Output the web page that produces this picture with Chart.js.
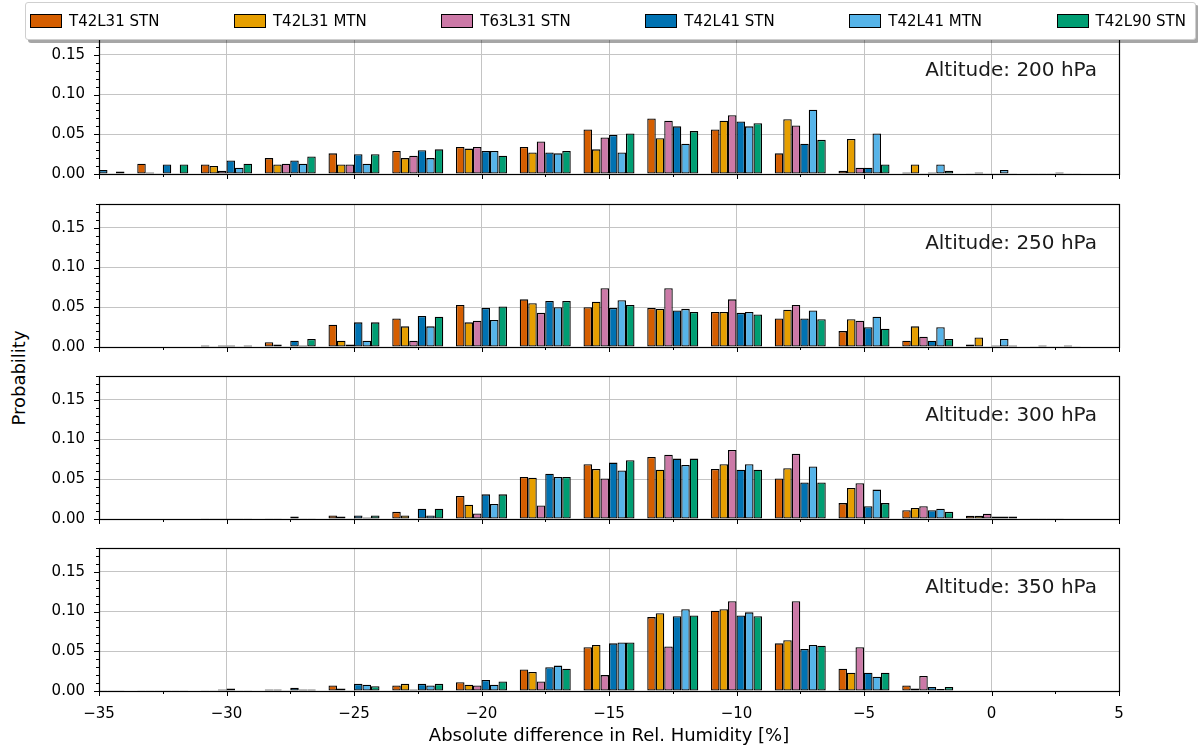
<!DOCTYPE html>
<html>
<head>
<meta charset="utf-8">
<script src="https://cdn.jsdelivr.net/npm/chart.js@4.4.1/dist/chart.umd.min.js"></script>
<style>
  body { margin: 0; background: #fff; width: 1198px; height: 753px; position: relative; overflow: hidden; font-family: "DejaVu Sans", sans-serif; }
  .panel { position: absolute; left: 0; width: 1198px; }
  #legend { position: absolute; left: 25px; top: 2px; width: 1171px; height: 38px; box-sizing: border-box;
            border: 1px solid #cfcfcf; border-radius: 3px; background: #fff; box-shadow: 3px 3px 0 rgba(0,0,0,0.35);
            display: flex; justify-content: space-between; align-items: center; padding: 0 9px 0 4px;
            font-size: 15px; color: #000; z-index: 5; }
  .item { display: flex; align-items: center; white-space: nowrap; }
  .swatch { width: 32px; height: 14px; border: 1.3px solid #000; box-sizing: border-box; margin-right: 7px; }
  #ylab { position: absolute; left: 18px; top: 378px; transform: translate(-50%, -50%) rotate(-90deg); font-size: 18px; white-space: nowrap; }
</style>
</head>
<body>
<div id="legend"></div>
<div id="ylab">Probability</div>

<script>
// bin centres of the histogram (%)
const binCenters = [-35, -32.5, -30, -27.5, -25, -22.5, -20, -17.5, -15, -12.5, -10, -7.5, -5, -2.5, 0, 2.5];

const seriesNames = ["T42L31 STN", "T42L31 MTN", "T63L31 STN", "T42L41 STN", "T42L41 MTN", "T42L90 STN"];
const seriesColors = ["#D55E00", "#E69F00", "#CC79A7", "#0072B2", "#56B4E9", "#009E73"];

const altitudes = ["200", "250", "300", "350"];

// one row per series, one value per bin
const p200 = [
  [0.008, 0.013, 0.012, 0.020, 0.026, 0.029, 0.034, 0.034, 0.056, 0.070, 0.056, 0.026, 0.004, 0.002, 0.001, 0.001],
  [0.003, 0.002, 0.010, 0.012, 0.012, 0.020, 0.032, 0.027, 0.031, 0.045, 0.067, 0.069, 0.044, 0.012, 0.002, 0.001],
  [0.002, 0.001, 0.004, 0.013, 0.012, 0.023, 0.034, 0.041, 0.046, 0.067, 0.074, 0.061, 0.008, 0.001, 0.001, 0.001],
  [0.005, 0.012, 0.017, 0.017, 0.025, 0.030, 0.029, 0.027, 0.049, 0.060, 0.066, 0.038, 0.008, 0.002, 0.001, 0.002],
  [0.001, 0.001, 0.008, 0.013, 0.013, 0.020, 0.029, 0.026, 0.027, 0.038, 0.060, 0.081, 0.051, 0.012, 0.005, 0.001],
  [0.003, 0.012, 0.013, 0.022, 0.025, 0.031, 0.023, 0.029, 0.051, 0.054, 0.064, 0.043, 0.012, 0.004, 0.001, 0.001]
];
const p250 = [
  [0, 0, 0.002, 0.006, 0.028, 0.036, 0.053, 0.060, 0.050, 0.049, 0.044, 0.036, 0.020, 0.008, 0.003, 0.001],
  [0, 0, 0.001, 0.003, 0.008, 0.026, 0.031, 0.055, 0.057, 0.048, 0.044, 0.047, 0.035, 0.026, 0.012, 0.002],
  [0, 0, 0.002, 0.001, 0.003, 0.008, 0.033, 0.043, 0.074, 0.074, 0.060, 0.053, 0.033, 0.013, 0.001, 0.001],
  [0, 0, 0.002, 0.008, 0.031, 0.039, 0.049, 0.058, 0.049, 0.046, 0.043, 0.036, 0.025, 0.008, 0.002, 0.001],
  [0, 0, 0.001, 0.002, 0.008, 0.026, 0.034, 0.050, 0.059, 0.048, 0.044, 0.046, 0.038, 0.025, 0.010, 0.002],
  [0, 0, 0.002, 0.010, 0.031, 0.038, 0.051, 0.058, 0.053, 0.044, 0.041, 0.035, 0.023, 0.010, 0.002, 0.001]
];
const p300 = [
  [0, 0, 0.001, 0.001, 0.0045, 0.009, 0.029, 0.053, 0.069, 0.078, 0.063, 0.051, 0.020, 0.011, 0.004, 0.001],
  [0, 0, 0.001, 0.001, 0.003, 0.0045, 0.018, 0.052, 0.063, 0.062, 0.069, 0.064, 0.039, 0.014, 0.004, 0.001],
  [0, 0, 0.001, 0, 0.001, 0.001, 0.007, 0.017, 0.051, 0.081, 0.087, 0.082, 0.045, 0.016, 0.0066, 0.001],
  [0, 0, 0.001, 0.003, 0.0045, 0.013, 0.031, 0.057, 0.071, 0.076, 0.062, 0.046, 0.016, 0.011, 0.003, 0.001],
  [0, 0, 0.001, 0.001, 0.002, 0.0045, 0.019, 0.053, 0.061, 0.068, 0.069, 0.066, 0.037, 0.013, 0.003, 0.0005],
  [0, 0, 0.001, 0.001, 0.0045, 0.013, 0.031, 0.053, 0.074, 0.076, 0.062, 0.046, 0.020, 0.009, 0.003, 0.0005]
];
const p350 = [
  [0.001, 0.001, 0.001, 0.002, 0.007, 0.007, 0.011, 0.027, 0.055, 0.093, 0.101, 0.060, 0.028, 0.007, 0, 0],
  [0.001, 0.001, 0.001, 0.002, 0.003, 0.009, 0.008, 0.024, 0.058, 0.098, 0.103, 0.064, 0.023, 0.003, 0, 0],
  [0.001, 0.001, 0.002, 0.001, 0.001, 0.002, 0.007, 0.012, 0.020, 0.056, 0.113, 0.113, 0.055, 0.019, 0, 0],
  [0.001, 0.001, 0.003, 0.004, 0.009, 0.009, 0.014, 0.030, 0.060, 0.094, 0.095, 0.053, 0.023, 0.005, 0, 0],
  [0.001, 0.001, 0.001, 0.002, 0.008, 0.007, 0.008, 0.032, 0.061, 0.103, 0.099, 0.058, 0.018, 0.0025, 0, 0],
  [0.001, 0.001, 0.001, 0.002, 0.006, 0.009, 0.012, 0.028, 0.061, 0.095, 0.094, 0.057, 0.023, 0.005, 0, 0]
];
const panelData = [p200, p250, p300, p350];

// legend
const legendEl = document.getElementById("legend");
seriesNames.forEach(function (name, i) {
  const item = document.createElement("div");
  item.className = "item";
  item.innerHTML = '<span class="swatch" style="background:' + seriesColors[i] + '"></span><span>' + name + '</span>';
  legendEl.appendChild(item);
});

function isMultiple(v, step) {
  const r = v / step;
  return Math.abs(r - Math.round(r)) < 1e-6;
}

// frame, tick marks (major + minor) and the altitude label
const framePlugin = {
  id: "frame",
  afterDraw(chart, args, opts) {
    const { ctx, chartArea: a, scales } = chart;
    const x = scales.x, y = scales.y;
    ctx.save();
    ctx.strokeStyle = "#000";
    ctx.lineWidth = 1;
    ctx.beginPath();
    x.ticks.forEach(function (t) {
      const px = Math.round(x.getPixelForValue(t.value)) + 0.5;
      const len = isMultiple(t.value, 5) ? 5 : 3;
      ctx.moveTo(px, a.bottom);
      ctx.lineTo(px, a.bottom + len);
    });
    y.ticks.forEach(function (t) {
      const py = Math.round(y.getPixelForValue(t.value)) + 0.5;
      const len = isMultiple(t.value, 0.05) ? 5 : 3;
      ctx.moveTo(a.left, py);
      ctx.lineTo(a.left - len, py);
    });
    ctx.stroke();
    ctx.lineWidth = 1.2;
    ctx.strokeRect(Math.round(a.left) + 0.5, Math.round(a.top) + 0.5,
                   Math.round(a.right - a.left), Math.round(a.bottom - a.top));
    ctx.fillStyle = "#1a1a1a";
    ctx.font = "20px 'DejaVu Sans'";
    ctx.textAlign = "right";
    ctx.textBaseline = "alphabetic";
    ctx.fillText(opts.label, a.right - 22, a.top + 45);
    ctx.restore();
  }
};

const plotTops = [31, 204, 376, 548];
const plotHeight = 143;

panelData.forEach(function (rows, p) {
  const last = p === panelData.length - 1;
  const axisH = last ? 56 : 8;
  let h = 200;

  const box = document.createElement("div");
  box.className = "panel";
  box.style.height = h + "px";
  const canvas = document.createElement("canvas");
  canvas.width = 1198;
  canvas.height = h;
  box.appendChild(canvas);
  document.body.appendChild(box);

  const datasets = rows.map(function (vals, i) {
    return {
      label: seriesNames[i],
      data: binCenters.map(function (c, k) { return { x: c, y: vals[k] }; }),
      backgroundColor: seriesColors[i],
      borderColor: "#000",
      borderWidth: 1.3,
      borderSkipped: false,
      barPercentage: 1.0,
      categoryPercentage: 0.8,
      clip: { left: 0, right: 0, top: 0, bottom: 2 }
    };
  });

  const chart = new Chart(canvas, {
    type: "bar",
    data: { datasets: datasets },
    plugins: [framePlugin],
    options: {
      responsive: false,
      maintainAspectRatio: false,
      animation: false,
      layout: { padding: { left: 0, right: 79, top: 0, bottom: 0 } },
      plugins: {
        legend: { display: false },
        tooltip: { enabled: false },
        frame: { label: "Altitude: " + altitudes[p] + " hPa" }
      },
      scales: {
        x: {
          type: "linear",
          min: -35,
          max: 5,
          offset: false,
          border: { display: false },
          grid: {
            offset: false,
            drawTicks: false,
            color: function (c) { return isMultiple(c.tick.value, 5) ? "#c4c4c4" : "rgba(0,0,0,0)"; },
            lineWidth: 1
          },
          ticks: {
            display: last,
            stepSize: 2.5,
            autoSkip: false,
            maxRotation: 0,
            padding: 14,
            color: "#000",
            font: { family: "DejaVu Sans", size: 15 },
            callback: function (v) {
              if (!isMultiple(v, 5)) return "";
              return v < 0 ? "\u2212" + Math.abs(v) : String(v);
            }
          },
          title: {
            display: last,
            text: "Absolute difference in Rel. Humidity [%]",
            color: "#000",
            font: { family: "DejaVu Sans", size: 18 },
            padding: { top: 0, bottom: 0 }
          },
          afterFit: function (s) { s.height = axisH; }
        },
        y: {
          min: 0,
          max: 0.18,
          border: { display: false },
          grid: {
            drawTicks: false,
            color: function (c) { return isMultiple(c.tick.value, 0.05) ? "#c4c4c4" : "rgba(0,0,0,0)"; },
            lineWidth: 1
          },
          ticks: {
            stepSize: 0.01,
            autoSkip: false,
            padding: 14,
            color: "#000",
            font: { family: "DejaVu Sans", size: 15 },
            callback: function (v) { return isMultiple(v, 0.05) ? v.toFixed(2) : ""; }
          },
          afterFit: function (s) { s.width = 99; }
        }
      }
    }
  });

  // fit the canvas so that the plot area lands where the figure has it
  const topInset = chart.chartArea.top;
  const bottomInset = h - chart.chartArea.bottom;
  h = Math.round(topInset + plotHeight + bottomInset);
  box.style.top = (plotTops[p] - topInset) + "px";
  box.style.height = h + "px";
  chart.resize(1198, h);
});
</script>
</body>
</html>
